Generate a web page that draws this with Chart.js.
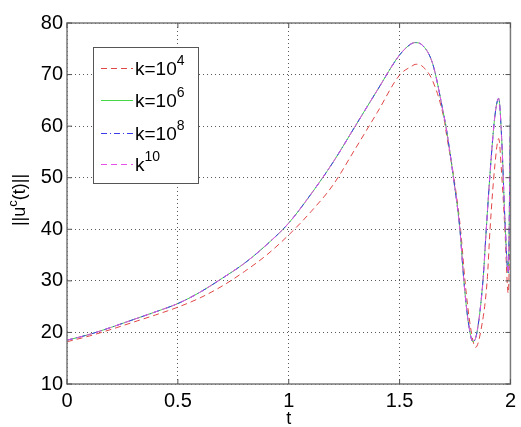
<!DOCTYPE html>
<html>
<head>
<meta charset="utf-8">
<script src="https://cdn.jsdelivr.net/npm/chart.js@4"></script>
<style>
  body { margin: 0; background: #fff; }
</style>
</head>
<body>
<canvas id="chart" width="521" height="427"></canvas>
<script>
// k = 10^4 (lower curve)
const tLow = [0, 0.1, 0.2, 0.3, 0.4, 0.5, 0.6, 0.7, 0.8, 0.9, 1.0, 1.1, 1.2, 1.3, 1.4, 1.5, 1.55, 1.575, 1.6, 1.65, 1.7, 1.713, 1.745, 1.775, 1.795, 1.82, 1.843, 1.865, 1.895, 1.908, 1.93, 1.947, 1.96, 1.975, 1.99, 2.0];
const uLow = [18.2, 19.3, 20.6, 22.0, 23.4, 24.9, 26.7, 29.0, 31.8, 35.0, 38.9, 43.4, 48.6, 55.6, 62.7, 69.9, 71.5, 72.0, 71.7, 68.7, 61.5, 58, 50, 40, 30, 21, 17.1, 20, 30, 40, 52.5, 57.6, 51, 40, 27.6, 43.6];

// k = 10^6, 10^8, 10^10 (nearly identical upper curves)
const tHigh = [0, 0.1, 0.2, 0.3, 0.4, 0.5, 0.6, 0.7, 0.8, 0.9, 1.0, 1.1, 1.2, 1.3, 1.4, 1.5, 1.55, 1.57, 1.6, 1.65, 1.7, 1.709, 1.743, 1.772, 1.79, 1.81, 1.831, 1.849, 1.876, 1.891, 1.91, 1.93, 1.947, 1.96, 1.976, 1.99, 2.0];
const uHigh = [18.5, 19.6, 21.0, 22.5, 24.0, 25.6, 27.8, 30.5, 33.4, 37.0, 41.2, 46.8, 53.0, 60.0, 67.0, 73.8, 75.9, 76.2, 75.8, 72.0, 62.0, 60, 50, 40, 30, 22, 18.2, 20, 30, 40, 52, 62, 65.4, 58, 41, 31.5, 62];

const legendBase = ['k=10', 'k=10', 'k=10', 'k'];
const legendExp = ['4', '6', '8', '10'];

const xTicks = [0, 0.5, 1, 1.5, 2];
const yTicks = [10, 20, 30, 40, 50, 60, 70, 80];

function pts(ts, us) {
  return ts.map((t, i) => ({ x: t, y: us[i] }));
}

const seriesStyle = [
  { color: 'rgb(225,70,70)', dash: [6, 4], order: 3 },
  { color: 'rgb(70,215,70)', dash: [], order: 2 },
  { color: 'rgb(60,60,235)', dash: [6, 3, 1, 3], order: 1 },
  { color: 'rgb(230,80,230)', dash: [6, 4], order: 0 }
];

const dataSets = [pts(tLow, uLow), pts(tHigh, uHigh), pts(tHigh, uHigh), pts(tHigh, uHigh)];

const framePlugin = {
  id: 'frame',
  afterDraw(chart) {
    const { ctx, chartArea: a, scales } = chart;
    ctx.save();
    ctx.strokeStyle = '#7a7a7a';
    ctx.lineWidth = 1.5;
    ctx.strokeRect(a.left, a.top, a.right - a.left, a.bottom - a.top);
    ctx.lineWidth = 1;
    ctx.strokeStyle = '#555';
    ctx.beginPath();
    yTicks.forEach(v => {
      const y = scales.y.getPixelForValue(v);
      ctx.moveTo(a.left, y); ctx.lineTo(a.left + 5, y);
      ctx.moveTo(a.right, y); ctx.lineTo(a.right - 5, y);
    });
    xTicks.forEach(v => {
      const x = scales.x.getPixelForValue(v);
      ctx.moveTo(x, a.bottom); ctx.lineTo(x, a.bottom - 5);
      ctx.moveTo(x, a.top); ctx.lineTo(x, a.top + 5);
    });
    ctx.stroke();

    // legend box
    const bx = 93, by = 47, bw = 105, bh = 136;
    ctx.fillStyle = '#fff';
    ctx.fillRect(bx, by, bw, bh);
    ctx.strokeStyle = '#555';
    ctx.lineWidth = 1;
    ctx.strokeRect(bx + 0.5, by + 0.5, bw, bh);
    const rows = [68, 100, 133, 164];
    chart.data.datasets.forEach((ds, i) => {
      const y = rows[i];
      ctx.save();
      ctx.strokeStyle = ds.borderColor;
      ctx.lineWidth = 1;
      ctx.setLineDash(ds.borderDash);
      ctx.beginPath();
      ctx.moveTo(101, y + 0.5); ctx.lineTo(133, y + 0.5);
      ctx.stroke();
      ctx.restore();
      ctx.fillStyle = '#000';
      ctx.textBaseline = 'alphabetic';
      ctx.textAlign = 'left';
      ctx.font = '19px "Liberation Sans", Arial, sans-serif';
      ctx.fillText(legendBase[i], 135, y + 7);
      const w = ctx.measureText(legendBase[i]).width;
      ctx.font = '14px "Liberation Sans", Arial, sans-serif';
      ctx.fillText(legendExp[i], 135 + w, y - 3);
    });

    // axis titles
    ctx.fillStyle = '#000';
    ctx.font = '18px "Liberation Sans", Arial, sans-serif';
    ctx.textAlign = 'center';
    ctx.textBaseline = 'middle';
    ctx.fillText('t', scales.x.getPixelForValue(1), 419);

    ctx.save();
    ctx.translate(25, 200);
    ctx.rotate(-Math.PI / 2);
    ctx.textAlign = 'left';
    ctx.textBaseline = 'alphabetic';
    const big = '18px "Liberation Sans", Arial, sans-serif';
    const small = '13px "Liberation Sans", Arial, sans-serif';
    ctx.font = big;
    const w1 = ctx.measureText('||u').width;
    const w3 = ctx.measureText('(t)||').width;
    ctx.font = small;
    const w2 = ctx.measureText('c').width;
    let x = -(w1 + w2 + w3) / 2;
    ctx.font = big;
    ctx.fillText('||u', x, 0);
    x += w1;
    ctx.font = small;
    ctx.fillText('c', x, -8);
    x += w2;
    ctx.font = big;
    ctx.fillText('(t)||', x, 0);
    ctx.restore();
    ctx.restore();
  }
};

new Chart(document.getElementById('chart'), {
  type: 'line',
  data: {
    datasets: dataSets.map((d, i) => ({
      label: legendBase[i] + legendExp[i],
      data: d,
      order: seriesStyle[i].order,
      borderColor: seriesStyle[i].color,
      borderDash: seriesStyle[i].dash,
      borderWidth: 1,
      pointRadius: 0,
      fill: false,
      cubicInterpolationMode: 'monotone'
    }))
  },
  options: {
    responsive: false,
    animation: false,
    devicePixelRatio: 1,
    layout: { padding: { top: 23, right: 3, left: 0, bottom: 0 } },
    plugins: { legend: { display: false }, tooltip: { enabled: false } },
    scales: {
      x: {
        type: 'linear',
        min: 0,
        max: 2,
        afterFit: s => { s.height = 43; },
        afterBuildTicks: s => { s.ticks = xTicks.map(v => ({ value: v })); },
        ticks: {
          color: '#000',
          padding: 5,
          font: { size: 20, family: '"Liberation Sans", Arial, sans-serif' },
          maxRotation: 0,
          callback: v => String(v)
        },
        grid: { color: 'rgba(0,0,0,0.65)', drawTicks: false, lineWidth: 1 },
        border: { display: false, dash: [1, 3] }
      },
      y: {
        min: 10,
        max: 80,
        afterFit: s => { s.width = 67; },
        afterBuildTicks: s => { s.ticks = yTicks.map(v => ({ value: v })); },
        ticks: {
          color: '#000',
          padding: 4,
          font: { size: 20, family: '"Liberation Sans", Arial, sans-serif' },
          callback: v => String(v)
        },
        grid: { color: 'rgba(0,0,0,0.65)', drawTicks: false, lineWidth: 1 },
        border: { display: false, dash: [1, 3] }
      }
    }
  },
  plugins: [framePlugin]
});
</script>
</body>
</html>
